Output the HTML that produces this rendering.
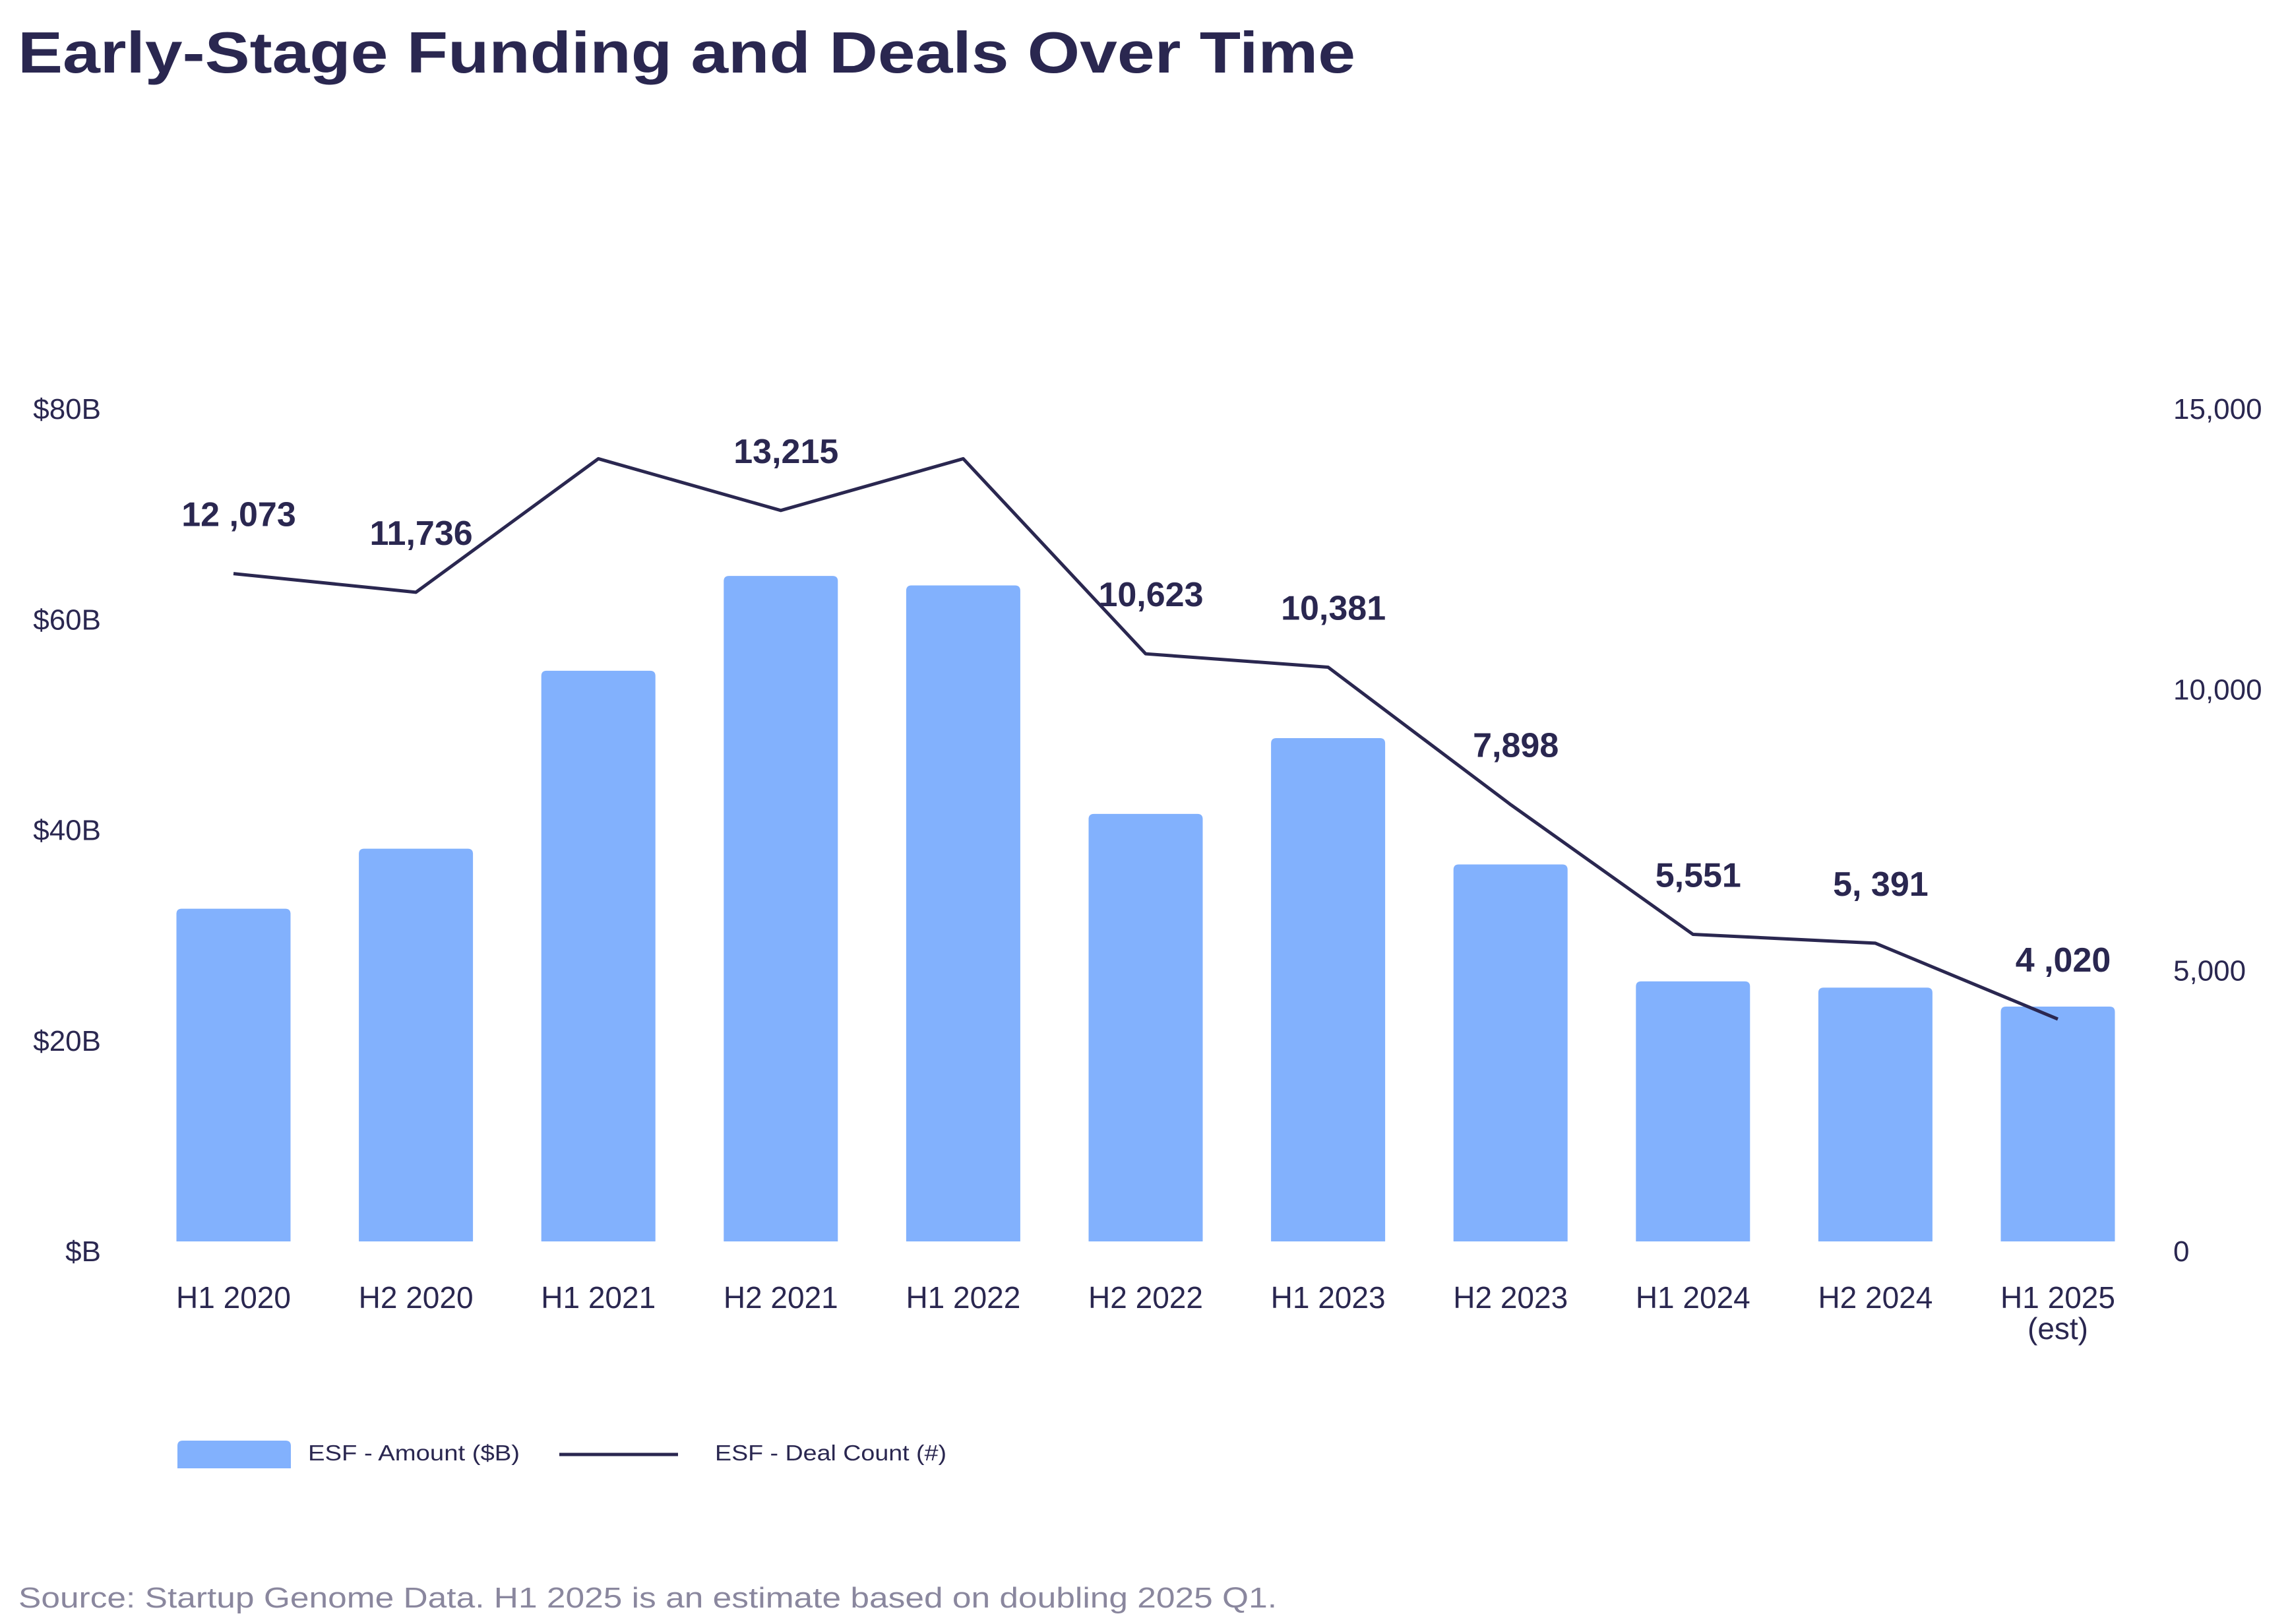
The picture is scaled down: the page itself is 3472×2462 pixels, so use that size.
<!DOCTYPE html>
<html><head><meta charset="utf-8"><style>
html,body{margin:0;padding:0;background:#fff;}
svg{display:block;font-family:"Liberation Sans",sans-serif;}
</style></head><body>
<svg id="chart" width="3472" height="2462" viewBox="0 0 3472 2462" xmlns="http://www.w3.org/2000/svg">
<text x="27" y="110" font-size="88" font-weight="bold" fill="#2a2750" textLength="2028" lengthAdjust="spacingAndGlyphs">Early-Stage Funding and Deals Over Time</text>
<g id="plot"></g>
<g>
<path d="M269,2226 V2192 Q269,2184 277,2184 H433 Q441,2184 441,2192 V2226 Z" fill="#82b1fd"/>
<text x="467" y="2214" font-size="33" fill="#2a2750" textLength="321" lengthAdjust="spacingAndGlyphs">ESF - Amount ($B)</text>
<line x1="848" y1="2205" x2="1028" y2="2205" stroke="#2a2750" stroke-width="5"/>
<text x="1084" y="2214" font-size="33" fill="#2a2750" textLength="351" lengthAdjust="spacingAndGlyphs">ESF - Deal Count (#)</text>
</g>
<text x="28" y="2437" font-size="44" fill="#8a879e" textLength="1908" lengthAdjust="spacingAndGlyphs">Source: Startup Genome Data. H1 2025 is an estimate based on doubling 2025 Q1.</text>
</svg>
<script>
const categories = ["H1 2020","H2 2020","H1 2021","H2 2021","H1 2022","H2 2022","H1 2023","H2 2023","H1 2024","H2 2024","H1 2025"];
const amounts = [31.6,37.3,54.2,63.2,62.3,40.6,47.8,35.8,24.7,24.1,22.3];
const dealCounts = [12073,11736,14150,13215,14150,10623,10381,7898,5551,5391,4020];
const dealLabels = ["12 ,073","11,736","","13,215","","10,623","10,381","7,898","5,551","5, 391","4 ,020"];
const leftTicks = [0,20,40,60,80];
const leftTickLabels = ["$B","$20B","$40B","$60B","$80B"];
const rightTicks = [0,5000,10000,15000];
const rightTickLabels = ["0","5,000","10,000","15,000"];

const NS = "http://www.w3.org/2000/svg";
const plot = document.getElementById("plot");
const y0 = 1882, yTop = 605;
const yL = v => y0 - v / 80 * (y0 - yTop);
const yR = v => y0 - v / 15000 * (y0 - yTop) * 0.985;
const yRt = v => y0 - v / 15000 * (y0 - yTop);
const xC = i => 354 + i * 276.6;
const bw = 173;
const navy = "#2a2750";
function mk(tag, attrs, txt) {
  const e = document.createElementNS(NS, tag);
  for (const k in attrs) e.setAttribute(k, attrs[k]);
  if (txt !== undefined) e.textContent = txt;
  plot.appendChild(e);
  return e;
}
leftTicks.forEach((t, i) => {
  const e = mk("text", {x: 153, y: yL(t) + 30, "font-size": 44, fill: navy, "text-anchor": "end"}, leftTickLabels[i]);
  
  
});
rightTicks.forEach((t, i) => {
  const e = mk("text", {x: 3295, y: yRt(t) + 30, "font-size": 44, fill: navy}, rightTickLabels[i]);
  
  
});
amounts.forEach((v, i) => {
  const x = xC(i) - bw / 2, y = yL(v), r = 8;
  const e = mk("path", {d: `M${x},${y0} V${y + r} Q${x},${y} ${x + r},${y} H${x + bw - r} Q${x + bw},${y} ${x + bw},${y + r} V${y0} Z`, fill: "#82b1fd"});
  
  
});
const pts = dealCounts.map((v, i) => `${xC(i)},${yR(v)}`).join(" ");
const line = mk("polyline", {points: pts, fill: "none", stroke: navy, "stroke-width": 5, "stroke-linejoin": "round"});


dealLabels.forEach((l, i) => {
  if (!l) return;
  const e = mk("text", {x: xC(i) + 8, y: yR(dealCounts[i]) - 72, "font-size": 52, "font-weight": "bold", fill: navy, "text-anchor": "middle"}, l);
  
  
});
categories.forEach((c, i) => {
  const e = mk("text", {x: xC(i), y: 1983, "font-size": 46, fill: navy, "text-anchor": "middle"}, c);
  
  
});
const est = mk("text", {x: xC(10), y: 2030, "font-size": 46, fill: navy, "text-anchor": "middle"}, "(est)");


</script>
</body></html>
